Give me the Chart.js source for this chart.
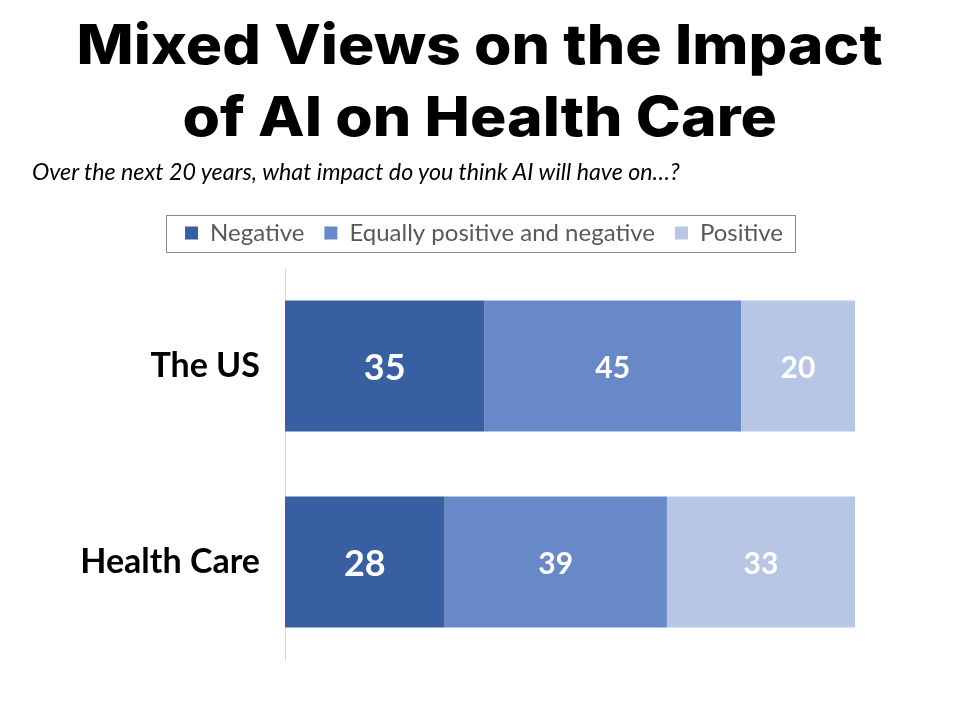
<!DOCTYPE html>
<html>
<head>
<meta charset="utf-8">
<script src="https://cdn.jsdelivr.net/npm/chart.js@4.4.1/dist/chart.umd.min.js"></script>
<style>
  html, body { margin: 0; padding: 0; background: #ffffff; }
  #wrap { position: relative; width: 960px; height: 720px; overflow: hidden; background: #fff; }
  #chart { position: absolute; left: 0; top: 0; }
  .title { position: absolute; left: 0; width: 960px; text-align: center; color: #000;
           font-family: Inter, "Noto Sans", sans-serif; font-weight: 800; font-size: 55px;
           line-height: 1; white-space: nowrap; }
  .title span { display: inline-block; transform-origin: 50% 50%; }
  #sub { position: absolute; left: 32px; top: 160px; font-family: Lato, "Open Sans", sans-serif;
         font-style: italic; font-size: 20px; color: #000; white-space: nowrap; line-height: 1; }
</style>
</head>
<body>
<div id="wrap">
  <canvas id="chart" width="960" height="720"></canvas>
  <div class="title" id="t1" style="top:17px"><span>Mixed Views on the Impact</span></div>
  <div class="title" id="t2" style="top:89px"><span>of AI on Health Care</span></div>
  <div id="sub">Over the next 20 years, what impact do you think AI will have on…?</div>
</div>
<script>
const categories = ['The US', 'Health Care'];
const seriesNames = ['Negative', 'Equally positive and negative', 'Positive'];
const negativeValues = [35, 28];
const equalValues = [45, 39];
const positiveValues = [20, 33];
const seriesColors = ['#385FA2', '#6789C8', '#B8C6E6'];

// fit title width to reference
(function () {
  const c = document.createElement('canvas').getContext('2d');
  c.font = '800 55px Inter';
  const w = c.measureText('Mixed Views on the Impact').width;
  const s = 806 / w;
  document.querySelectorAll('.title span').forEach(el => el.style.transform = 'scaleX(' + s + ')');
  c.font = 'italic 20px Lato';
  const w2 = c.measureText(document.getElementById('sub').textContent).width;
  document.getElementById('sub').style.fontSize = (20 * 651 / w2) + 'px';
})();

const legendShift = {
  id: 'legendShift',
  afterLayout(chart) {
    const lg = chart.legend;
    if (!lg) return;
    const dx = 484 - (lg.left + lg.right) / 2;
    lg.left += dx;
    lg.right += dx;
  }
};

const legendBorder = {
  id: 'legendBorder',
  afterDraw(chart) {
    const lg = chart.legend;
    if (!lg || !lg.legendHitBoxes || !lg.legendHitBoxes.length) return;
    const hb = lg.legendHitBoxes;
    const first = hb[0];
    const cy = first.top + first.height / 2;
    const ctx = chart.ctx;
    ctx.save();
    ctx.strokeStyle = '#8c8c8c';
    ctx.lineWidth = 1;
    ctx.strokeRect(166.5, Math.round(cy - 18.5) + 0.5, 629, 37);
    ctx.restore();
  }
};

const valueLabels = {
  id: 'valueLabels',
  afterDatasetsDraw(chart) {
    const ctx = chart.ctx;
    ctx.save();
    ctx.fillStyle = '#ffffff';
    ctx.textAlign = 'center';
    ctx.textBaseline = 'middle';
    chart.data.datasets.forEach((ds, di) => {
      const meta = chart.getDatasetMeta(di);
      const size = di === 0 ? 36 : 30;
      ctx.font = 'bold ' + size + 'px Lato, "Open Sans", sans-serif';
      meta.data.forEach((bar, i) => {
        const p = bar.getProps(['x', 'y', 'base'], true);
        ctx.fillText(String(ds.data[i]), (p.x + p.base) / 2, p.y + 2);
      });
    });
    ctx.restore();
  }
};

new Chart(document.getElementById('chart'), {
  type: 'bar',
  data: {
    labels: categories,
    datasets: [
      { label: seriesNames[0], data: negativeValues, backgroundColor: seriesColors[0] },
      { label: seriesNames[1], data: equalValues, backgroundColor: seriesColors[1] },
      { label: seriesNames[2], data: positiveValues, backgroundColor: seriesColors[2] }
    ]
  },
  options: {
    indexAxis: 'y',
    responsive: false,
    animation: false,
    devicePixelRatio: 1,
    layout: { padding: { top: 201, right: 105, bottom: 60, left: 0 } },
    datasets: { bar: { barPercentage: 0.668, categoryPercentage: 1.0, borderWidth: 0 } },
    scales: {
      x: {
        stacked: true, min: 0, max: 100, position: 'top',
        grid: { display: false, drawTicks: false }, border: { display: false },
        ticks: { display: false },
        afterFit(s) { s.height = 13; }
      },
      y: {
        stacked: true,
        grid: { display: false, drawTicks: false },
        border: { display: true, color: '#d9d9d9', width: 1 },
        ticks: { color: '#000', padding: 25, font: { family: 'Lato', weight: 'bold', size: 34 } },
        afterFit(s) { s.width = 285; }
      }
    },
    plugins: {
      legend: {
        position: 'top',
        labels: {
          boxWidth: 13, boxHeight: 13, padding: 20, color: '#595959',
          font: { family: 'Lato', size: 24 }
        }
      },
      tooltip: { enabled: false },
      title: { display: false }
    }
  },
  plugins: [legendShift, valueLabels, legendBorder]
});
</script>
</body>
</html>
